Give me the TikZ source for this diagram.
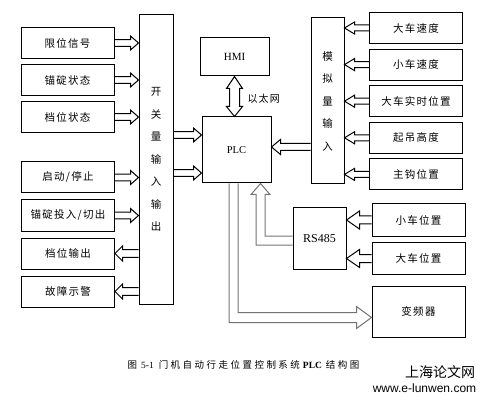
\documentclass[tikz,border=0pt]{standalone}
\usepackage{fontspec}
\setmainfont{Liberation Serif}
\newfontfamily\cjk[LetterSpace=12]{Noto Sans CJK SC}
\newfontfamily\cjkcap[LetterSpace=26]{Noto Sans CJK SC}
\newfontfamily\cjkplain{Noto Sans CJK SC}
\newfontfamily\wmfont{Liberation Sans}
\usetikzlibrary{calc, positioning}
\tikzset{
  box/.style={draw, line width=1pt, minimum width=93pt, minimum height=31pt,
    inner sep=0pt, font=\cjk\fontsize{10.5}{12}\selectfont},
  bar/.style={draw, line width=1pt, inner sep=0pt, align=center,
    font=\cjk\fontsize{10.5}{22.5}\selectfont},
  latin/.style={font=\fontsize{10.5}{12}\selectfont},
  fat/.style={line width=1pt, line join=miter},
  fatgray/.style={fat, draw=black!55},
}
% hollow arrows: shaft half width, head half width, head length
\newcommand{\arrowsize}[3]{\def\sh{#1pt}\def\hw{#2pt}\def\hl{#3pt}}
\newcommand{\rarrow}[2]{\draw[fat] let \p1=#1, \p2=#2 in
  (\x1,\y1+\sh) -- (\x2-\hl,\y1+\sh) -- (\x2-\hl,\y1+\hw) -- (\x2,\y1)
  -- (\x2-\hl,\y1-\hw) -- (\x2-\hl,\y1-\sh) -- (\x1,\y1-\sh);}
\newcommand{\larrow}[2]{\draw[fat] let \p1=#1, \p2=#2 in
  (\x1,\y1+\sh) -- (\x2+\hl,\y1+\sh) -- (\x2+\hl,\y1+\hw) -- (\x2,\y1)
  -- (\x2+\hl,\y1-\hw) -- (\x2+\hl,\y1-\sh) -- (\x1,\y1-\sh);}

\begin{document}
\begin{tikzpicture}[x=1pt, y=-1pt, node distance=37pt]
  \useasboundingbox (0,0) rectangle (485,401);

  % switch signals
  \node[box] (lim) at (67.5,43) {限位信号};
  \node[box, below of=lim] (anc) {锚碇状态};
  \node[box, below of=anc] (gear) {档位状态};
  \node[box] (run) at (68,177.5) {启动/停止};
  \node[box, below of=run, node distance=38pt] (cut) {锚碇投入/切出};
  \node[box, below of=cut, node distance=38pt] (gout) {档位输出};
  \node[box, below of=gout, node distance=38pt] (fault) {故障示警};
  \node[bar, minimum width=34pt, minimum height=289pt] (sw) at (156,159.5)
    {开\\关\\量\\输\\入\\输\\出};

  % controller
  \node[draw, line width=1pt, minimum width=69pt, minimum height=38pt,
    font=\fontsize{11}{12}\selectfont] (hmi) at (234.5,57) {HMI};
  \node[draw, line width=1pt, minimum width=69pt, minimum height=66pt,
    latin] (plc) at (236.5,150) {PLC};
  \node[anchor=west, font=\cjk\fontsize{10}{12}\selectfont] (eth) at (244,99) {以太网};

  % analog signals
  \node[bar, minimum width=33pt, minimum height=166pt] (an) at (327.5,101)
    {模\\拟\\量\\输\\入};
  \node[box] (vbig) at (416,28) {大车速度};
  \node[box, below of=vbig, node distance=36.6pt] (vsmall) {小车速度};
  \node[box, below of=vsmall, node distance=36.6pt] (pos) {大车实时位置};
  \node[box, below of=pos, node distance=36.6pt] (lift) {起吊高度};
  \node[box, below of=lift, node distance=36.6pt] (hook) {主钩位置};

  % bus and drive
  \node[draw, line width=1pt, minimum width=53pt, minimum height=61pt,
    font=\fontsize{12}{14}\selectfont] (rs) at (319.5,238.5) {RS485};
  \node[box, minimum height=32pt] (tpos) at (418.5,220) {小车位置};
  \node[box, minimum height=32pt, below of=tpos, node distance=38.5pt] (cpos) {大车位置};
  \node[box, minimum height=51pt] (vfd) at (418.5,311.5) {变频器};

  % caption
  \node[font=\cjkcap\fontsize{9.5}{11}\selectfont] (cap) at (243.5,365)
    {图\hspace{4pt}{\rmfamily 5-1}\hspace{5pt}门机自动行走位置控制系统\hspace{3pt}{\rmfamily\bfseries PLC}\hspace{4pt}结构图};
  \node[font=\cjkplain\fontsize{14}{16}\selectfont] (wm) at (440,372) {上海论文网};
  \node[font=\wmfont\fontsize{12}{14}\selectfont] (url) at (424.5,388) {www.e-lunwen.com};

  % connections
  \arrowsize{3.3}{7}{8}
  \rarrow{(lim.east)}{(sw.west |- lim.east)}
  \rarrow{(anc.east)}{(sw.west |- anc.east)}
  \rarrow{(gear.east)}{(sw.west |- gear.east)}
  \rarrow{(run.east)}{(sw.west |- run.east)}
  \rarrow{(cut.east)}{(sw.west |- cut.east)}
  \arrowsize{3.8}{7.5}{7.5}
  \larrow{(sw.west |- gout.east)}{(gout.east)}
  \larrow{(sw.west |- fault.east)}{(fault.east)}
  \coordinate (in1) at ($(plc.west)+(0,-15)$);
  \coordinate (in2) at ($(plc.west)+(0,23)$);
  \arrowsize{3.3}{7}{8}
  \rarrow{(sw.east |- in1)}{(in1)}
  \rarrow{(sw.east |- in2)}{(in2)}
  \arrowsize{3}{6}{10}
  \larrow{(vbig.west)}{(an.east |- vbig.west)}
  \larrow{(vsmall.west)}{(an.east |- vsmall.west)}
  \larrow{(pos.west)}{(an.east |- pos.west)}
  \larrow{(lift.west)}{(an.east |- lift.west)}
  \larrow{(hook.west)}{(an.east |- hook.west)}
  \coordinate (in3) at ($(plc.east)+(0,-3)$);
  \arrowsize{3.5}{7.5}{9}
  \larrow{(an.west |- in3)}{(in3)}
  \arrowsize{4}{9}{13}
  \larrow{(tpos.west)}{(rs.east |- tpos.west)}
  \larrow{(cpos.west)}{(rs.east |- cpos.west)}
  \draw[fat] let \p1=(hmi.south), \p2=(plc.north) in
    (\x1,\y1) -- (\x1+8pt,\y1-12pt) -- (\x1+5pt,\y1-12pt) -- (\x1+5pt,\y2+10pt)
    -- (\x1+8pt,\y2+10pt) -- (\x1,\y2) -- (\x1-8pt,\y2+10pt) -- (\x1-5pt,\y2+10pt)
    -- (\x1-5pt,\y1-12pt) -- (\x1-8pt,\y1-12pt) -- cycle;
  \draw[fatgray] let \p1=($(rs.west)+(0,2)$), \p2=($(plc.south east)+(-11,0)$) in
    (\x1,\y1+4.5pt) -- (\x2+4.5pt,\y1+4.5pt) -- (\x2+4.5pt,\y2-11pt)
    -- (\x2+9.5pt,\y2-11pt) -- (\x2,\y2) -- (\x2-9.5pt,\y2-11pt)
    -- (\x2-4.5pt,\y2-11pt) -- (\x2-4.5pt,\y1-4.5pt) -- (\x1,\y1-4.5pt);
  \draw[fatgray] let \p1=($(plc.south)+(-3,0)$), \p2=($(vfd.west)+(0,6)$) in
    (\x1-4.5pt,\y1) -- (\x1-4.5pt,\y2-5pt) -- (\x2-15pt,\y2-5pt) -- (\x2-15pt,\y2-11pt)
    -- (\x2,\y2) -- (\x2-15pt,\y2+11pt) -- (\x2-15pt,\y2+5pt) -- (\x1+4.5pt,\y2+5pt)
    -- (\x1+4.5pt,\y1);
\end{tikzpicture}
\end{document}
